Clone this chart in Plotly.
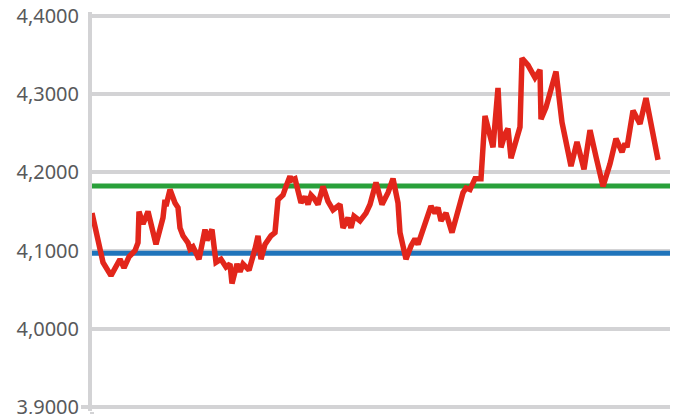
import plotly.graph_objects as go

# day offsets and values
days = [0, 8, 11, 19, 28, 32, 37, 43, 46, 47, 51, 56, 64, 71, 73, 74, 78, 83, 86, 88,
        91, 96, 98, 101, 107, 113, 115, 120, 124, 129, 134, 138, 140, 145, 148, 151, 157,
        163, 166, 169, 173, 179, 183, 186, 191, 194, 198, 199, 203, 209, 213, 216, 219,
        222, 226, 231, 236, 241, 248, 251, 256, 259, 262, 268, 274, 278, 284, 290, 296,
        301, 306, 308, 314, 319, 323, 326, 331, 336, 339, 343, 346, 349, 354, 360, 366,
        371, 374, 378, 383, 389, 393, 398, 401, 406, 409, 413, 416, 419, 424, 428, 430,
        436, 443, 448, 449, 454, 464, 470, 479, 485, 492, 498, 504, 511, 518, 524, 530,
        533, 535, 541, 548, 554, 566]
rate = [4.148, 4.107, 4.085, 4.068, 4.089, 4.078, 4.092, 4.100, 4.110, 4.150, 4.134,
        4.150, 4.108, 4.142, 4.165, 4.157, 4.178, 4.161, 4.155, 4.129, 4.119, 4.110,
        4.102, 4.105, 4.089, 4.127, 4.113, 4.127, 4.085, 4.089, 4.079, 4.083, 4.058,
        4.083, 4.073, 4.083, 4.075, 4.102, 4.119, 4.089, 4.108, 4.119, 4.123, 4.165,
        4.171, 4.182, 4.195, 4.190, 4.192, 4.161, 4.169, 4.159, 4.171, 4.167, 4.159,
        4.182, 4.163, 4.152, 4.159, 4.129, 4.142, 4.129, 4.144, 4.138, 4.148, 4.159,
        4.187, 4.159, 4.174, 4.192, 4.161, 4.123, 4.089, 4.106, 4.115, 4.108, 4.129,
        4.146, 4.157, 4.148, 4.155, 4.138, 4.148, 4.123, 4.152, 4.174, 4.180, 4.178,
        4.192, 4.192, 4.272, 4.247, 4.232, 4.308, 4.232, 4.249, 4.256, 4.218, 4.241,
        4.258, 4.346, 4.337, 4.321, 4.331, 4.268, 4.283, 4.329, 4.264, 4.208, 4.239,
        4.204, 4.254, 4.220, 4.182, 4.211, 4.243, 4.226, 4.237, 4.232, 4.279, 4.262,
        4.295, 4.216]

green_level = 4.1827
blue_level = 4.0966

x_range = [0, 580]
y_range = [3.895, 4.405]
y_ticks = [3.9, 4.0, 4.1, 4.2, 4.3, 4.4]

GRID = "#d3d3d5"

fig = go.Figure()
fig.add_trace(go.Scatter(x=x_range, y=[blue_level, blue_level], mode="lines",
                         line=dict(color="#1f74bb", width=5), hoverinfo="skip"))
fig.add_trace(go.Scatter(x=x_range, y=[green_level, green_level], mode="lines",
                         line=dict(color="#29a03a", width=5), hoverinfo="skip"))
fig.add_trace(go.Scatter(x=days, y=rate, mode="lines",
                         line=dict(color="#e2261b", width=5.5)))
# helper axis for the small tick at the bottom left
fig.add_trace(go.Scatter(x=[None], y=[None], yaxis="y2", showlegend=False))

fig.update_layout(
    width=670, height=406,
    margin=dict(l=84, r=6, t=4, b=3),
    paper_bgcolor="white", plot_bgcolor="white",
    showlegend=False,
    separators=",.",
    font=dict(family="Noto Sans", color="#58595b", size=20),
    xaxis=dict(range=x_range, showgrid=False, zeroline=False, showticklabels=False,
               showline=False, tickvals=[0], ticks="outside", ticklen=10,
               tickwidth=4, tickcolor=GRID, automargin=False),
    yaxis=dict(range=y_range, tickvals=y_ticks, tickformat=".4f",
               showgrid=True, gridcolor=GRID, gridwidth=4, zeroline=False,
               showline=True, linecolor=GRID, linewidth=4, ticks="",
               ticklabelstandoff=5, ticklabeloverflow="allow", automargin=False),
    yaxis2=dict(range=y_range, overlaying="y", side="left", tickvals=[3.9],
                showticklabels=False, showgrid=False, zeroline=False,
                ticks="outside", ticklen=10, tickwidth=4, tickcolor=GRID,
                automargin=False),
)

fig.write_html("out.html")
